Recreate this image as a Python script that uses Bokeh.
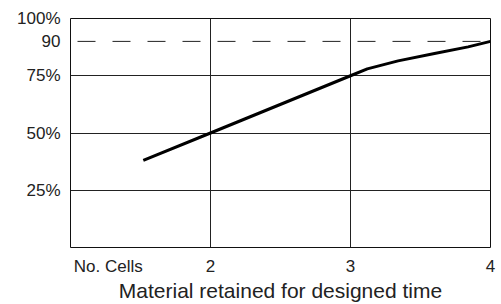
from bokeh.plotting import figure
from bokeh.models import FixedTicker, Span, Range1d
from bokeh.embed import file_html
from bokeh.resources import INLINE

# data
cells = [1.52, 2.0, 3.0, 3.12, 3.34, 3.60, 3.84, 4.0]
retained = [38, 50, 75, 78, 81.5, 84.7, 87.6, 90]
x_ticks = [2, 3, 4]
y_ticks = [25, 50, 75, 90, 100]
y_tick_labels = ["25%", "50%", "75%", "90", "100%"]
y_grid = [25, 50, 75]
x_grid = [2, 3]
target = 90
x_first_label = "No. Cells"
x_title = "Material retained for designed time"

FONT = "Liberation Sans"
TXT = "#222222"

p = figure(width=501, height=304, output_backend="svg", toolbar_location=None,
           x_range=Range1d(1, 4), y_range=Range1d(0, 100),
           min_border_left=70, min_border_right=11, min_border_top=18, min_border_bottom=57)
p.background_fill_color = "white"
p.border_fill_color = "white"
p.outline_line_color = "#111111"
p.outline_line_width = 1
p.outline_line_alpha = 1

# the "No. Cells" caption sits left-aligned at the start of the axis:
# its centre is half its width (about 77 px of 140 px per unit) to the right of x=1
first_label_pos = 1 + 0.27
p.xaxis.ticker = FixedTicker(ticks=[first_label_pos] + x_ticks)
p.xaxis.major_label_overrides = {first_label_pos: x_first_label}
p.yaxis.ticker = FixedTicker(ticks=y_ticks)
p.yaxis.major_label_overrides = {t: l for t, l in zip(y_ticks, y_tick_labels)}
for ax in (p.xaxis, p.yaxis):
    ax.axis_line_color = None
    ax.major_tick_line_color = None
    ax.minor_tick_line_color = None
    ax.major_tick_out = 0
    ax.major_tick_in = 0
    ax.major_label_text_font = FONT
    ax.major_label_text_font_size = "17px"
    ax.major_label_text_color = TXT
p.xaxis.major_label_standoff = 9
p.yaxis.major_label_standoff = 10
p.xaxis.axis_label = x_title
p.xaxis.axis_label_text_font = FONT
p.xaxis.axis_label_text_font_size = "21px"
p.xaxis.axis_label_text_font_style = "normal"
p.xaxis.axis_label_text_color = TXT
p.xaxis.axis_label_standoff = 0

p.xgrid.ticker = FixedTicker(ticks=x_grid)
p.ygrid.ticker = FixedTicker(ticks=y_grid)
for g in (p.xgrid, p.ygrid):
    g.grid_line_color = "#222222"
    g.grid_line_width = 1
    g.grid_line_alpha = 1

p.add_layout(Span(location=target, dimension="width", line_color="#222222",
                  line_width=1, line_dash="18 17", line_dash_offset=28))

p.line(cells, retained, line_color="black", line_width=3)

open("out.html", "w").write(file_html(p, INLINE))
